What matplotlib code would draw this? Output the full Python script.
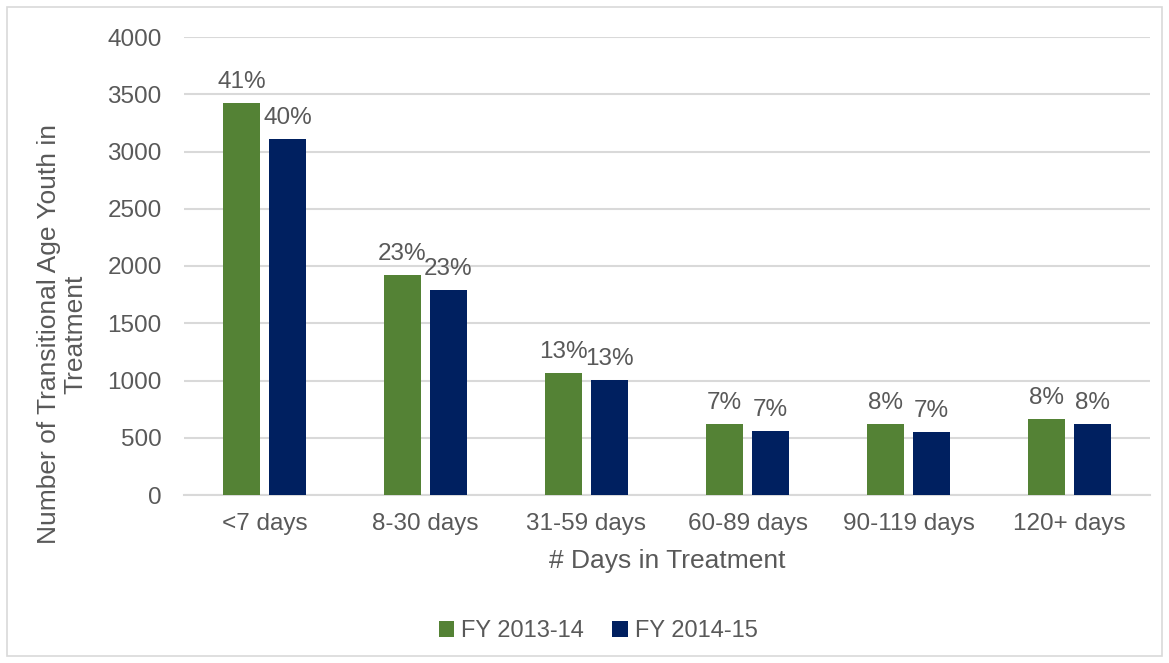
import matplotlib
matplotlib.use("Agg")
import matplotlib.pyplot as plt
from matplotlib.patches import Rectangle
import numpy as np

categories = ["<7 days", "8-30 days", "31-59 days", "60-89 days", "90-119 days", "120+ days"]
fy1314 = [3424, 1921, 1066, 620, 620, 664]
fy1415 = [3109, 1790, 1004, 559, 550, 620]
pct1314 = ["41%", "23%", "13%", "7%", "8%", "8%"]
pct1415 = ["40%", "23%", "13%", "7%", "7%", "8%"]
series_names = ["FY 2013-14", "FY 2014-15"]
yticks = [0, 500, 1000, 1500, 2000, 2500, 3000, 3500, 4000]

GREEN = "#548235"
NAVY = "#002060"
TXT = "#595959"
GRID = "#D9D9D9"

plt.rcParams['font.family'] = ['Liberation Sans', 'DejaVu Sans']

fig = plt.figure(figsize=(11.69, 6.63), dpi=100)
ax = fig.add_axes([184/1169, 1-495/663, (1150-184)/1169, (495-37)/663])

# outer border
fig.patches.append(Rectangle((7/1169, 7/663), (1162-7)/1169, (656-7)/663,
                             transform=fig.transFigure, fill=False,
                             edgecolor="#D9D9D9", linewidth=1.2))

x = np.arange(len(categories))
w = 0.23
off = 0.143
b1 = ax.bar(x - off, fy1314, w, color=GREEN, label=series_names[0], zorder=3)
b2 = ax.bar(x + off, fy1415, w, color=NAVY, label=series_names[1], zorder=3)

for bars, labels in ((b1, pct1314), (b2, pct1415)):
    for r, lab in zip(bars, labels):
        ax.annotate(lab, (r.get_x() + r.get_width()/2, r.get_height()),
                    xytext=(0, 7), textcoords="offset points",
                    ha="center", va="bottom", fontsize=17.5, color=TXT)

ax.set_xlim(-0.5, len(categories) - 0.5)
ax.set_ylim(0, 4000)
ax.set_yticks(yticks)
ax.set_yticklabels([str(v) for v in yticks])
ax.set_xticks(x)
ax.set_xticklabels(categories)
ax.tick_params(axis="both", length=0, labelsize=17.5, colors=TXT)
ax.tick_params(axis="y", pad=16)
ax.tick_params(axis="x", pad=13)
ax.grid(axis="y", color=GRID, linewidth=1.5, zorder=0)
ax.set_axisbelow(True)
for s in ["top", "right", "left"]:
    ax.spines[s].set_visible(False)
ax.spines["bottom"].set_color(GRID)
ax.spines["bottom"].set_linewidth(1.5)

fig.text(667/1169, 1-561/663, "# Days in Treatment", fontsize=19, color=TXT,
         ha="center", va="center")
fig.text(62/1169, 1-334/663, "Number of Transitional Age Youth in\nTreatment",
         fontsize=19, color=TXT, rotation=90, ha="center", va="center",
         multialignment="center", linespacing=1.15)

fig.legend(handles=[b1, b2], labels=series_names, loc="center",
           bbox_to_anchor=(598/1169, 1-631/663), ncol=2, frameon=False,
           fontsize=17, handlelength=0.65, handleheight=0.65, handletextpad=0.3,
           columnspacing=1.2, labelcolor=TXT)

fig.savefig("out.png", dpi=100)
